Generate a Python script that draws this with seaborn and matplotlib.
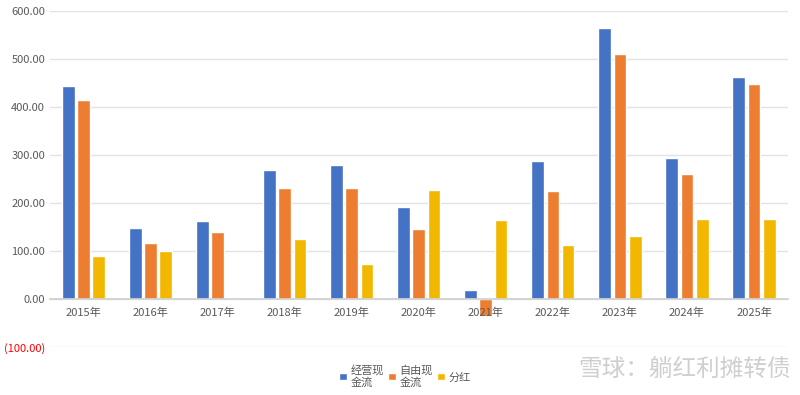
import numpy as np
import pandas as pd
import seaborn as sns
import matplotlib.pyplot as plt
from matplotlib.ticker import FuncFormatter

# values
years = ["2015年", "2016年", "2017年", "2018年", "2019年", "2020年",
         "2021年", "2022年", "2023年", "2024年", "2025年"]
operating_cf = [443, 148, 162, 269, 279, 192, 19, 287, 565, 294, 463]
free_cf = [414, 116, 139, 231, 231, 146, -35, 225, 510, 260, 448]
dividends = [90, 100, 0, 125, 73, 227, 165, 112, 131, 167, 167]
series_names = ["经营现\n金流", "自由现\n金流", "分红"]
colors = ["#4472C4", "#ED7D31", "#F2B800"]

df = pd.DataFrame({
    "year": years * 3,
    "value": operating_cf + free_cf + dividends,
    "series": np.repeat(series_names, len(years)),
})

sns.set_theme(style="white")
plt.rcParams["font.family"] = ["Noto Sans CJK SC", "DejaVu Sans"]

fig = plt.figure(figsize=(8, 3.95), dpi=100)
ax = fig.add_axes([0.0625, 0.1215, 0.922, 0.8505])

sns.barplot(data=df, x="year", y="value", hue="series", palette=colors,
            width=0.68, gap=0.16, ax=ax, saturation=1, errorbar=None)

ax.set_ylim(-100, 600)
ax.set_xlim(-0.5, len(years) - 0.5)
ax.set_yticks(range(-100, 601, 100))


def fmt(v, pos):
    if v < 0:
        return f"({abs(v):.2f})"
    return f"{v:.2f}"


ax.yaxis.set_major_formatter(FuncFormatter(fmt))

ax.grid(axis="y", color="#E3E3E3", linewidth=1)
ax.set_axisbelow(True)
ax.xaxis.set_zorder(3)  # year labels sit on top of the negative bar
for s in ["top", "right", "left"]:
    ax.spines[s].set_visible(False)
ax.spines["bottom"].set_position(("data", 0))
ax.spines["bottom"].set_color("#D0D0D0")
ax.tick_params(axis="both", length=0, labelsize=8, labelcolor="#595959")
ax.tick_params(axis="x", pad=6)
for lab in ax.get_yticklabels():
    lab.set_color("red" if lab.get_text().startswith("(") else "#595959")
ax.set_xlabel("")
ax.set_ylabel("")

ax.legend_.remove()
handles, labels = ax.get_legend_handles_labels()
fig.legend(handles, labels, loc="center", bbox_to_anchor=(0.506, 0.047),
           ncol=3, frameon=False, fontsize=8, handlelength=0.7,
           handleheight=0.7, handletextpad=0.3, columnspacing=0.4,
           labelcolor="#595959")

fig.text(0.988, 0.066, "雪球：躺红利摊转债", ha="right", va="center",
         fontsize=17, color="#CFCFCF")

fig.savefig("out.png", dpi=100)
